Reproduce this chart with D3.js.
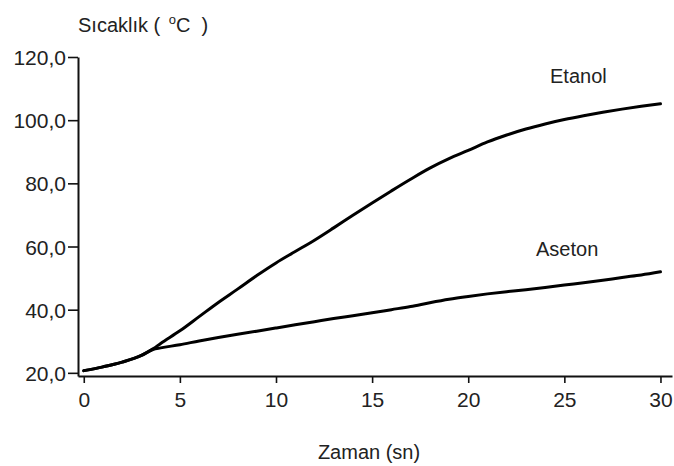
<!DOCTYPE html>
<html>
<head>
<meta charset="utf-8">
<script src="https://cdn.jsdelivr.net/npm/d3@7"></script>
<style>
  html, body { margin: 0; padding: 0; background: #fff; }
  svg { display: block; }
  text { font-family: "Liberation Sans", Arial, sans-serif; fill: #222; }
</style>
</head>
<body>
<svg id="chart" width="674" height="466"></svg>
<script>
// ---- data ----
const timeEtanol = [0, 1, 2, 3, 3.6, 4, 5, 6, 7, 8, 9, 10, 11, 12, 13, 14, 15, 16, 17, 18, 19, 20, 21, 22, 23, 24, 25, 26, 27, 28, 29, 30];
const tempEtanol = [20.7, 21.9, 23.4, 25.5, 27.6, 29.3, 33.3, 37.8, 42.3, 46.5, 50.8, 54.8, 58.4, 62.0, 65.9, 69.9, 73.8, 77.6, 81.3, 84.8, 87.8, 90.4, 93.1, 95.3, 97.2, 98.8, 100.2, 101.4, 102.5, 103.5, 104.4, 105.2];
const timeAseton = [0, 1, 2, 3, 3.6, 4, 5, 6, 7, 8, 9, 10, 11, 12, 13, 14, 15, 16, 17, 18, 19, 20, 21, 22, 23, 24, 25, 26, 27, 28, 29, 30];
const tempAseton = [20.7, 21.9, 23.4, 25.5, 27.4, 27.9, 28.9, 30.1, 31.2, 32.2, 33.2, 34.2, 35.2, 36.2, 37.2, 38.1, 39.0, 40.0, 41.0, 42.2, 43.3, 44.2, 45.0, 45.7, 46.3, 47.0, 47.8, 48.5, 49.3, 50.2, 51.0, 52.0];
const xTicks = [0, 5, 10, 15, 20, 25, 30];
const xTickLabels = ["0", "5", "10", "15", "20", "25", "30"];
const yTicks = [20, 40, 60, 80, 100, 120];
const yTickLabels = ["20,0", "40,0", "60,0", "80,0", "100,0", "120,0"];
const seriesNames = ["Etanol", "Aseton"];
const yTitle = ["Sıcaklık ( ", "o", "C )"];
const xTitle = "Zaman (sn)";

// ---- scales ----
const svg = d3.select("#chart");
const x = d3.scaleLinear().domain([-0.3, 30.6]).range([78, 672]);
const y = d3.scaleLinear().domain([19, 120]).range([376, 57]);

// ---- axes ----
const yAxis = d3.axisLeft(y)
  .tickValues(yTicks)
  .tickFormat((d, i) => yTickLabels[i])
  .tickSizeInner(10).tickSizeOuter(0).tickPadding(2);
const gy = svg.append("g").attr("transform", `translate(${x(-0.3)},0)`).call(yAxis);
gy.selectAll("text").style("font-size", "21px").attr("dy", "0.36em");

const xAxis = d3.axisBottom(x)
  .tickValues(xTicks)
  .tickFormat((d, i) => xTickLabels[i])
  .tickSizeInner(7).tickSizeOuter(0).tickPadding(9);
const gx = svg.append("g").attr("transform", `translate(0,${y(19)})`).call(xAxis);
gx.selectAll("text").style("font-size", "21px");

[gx, gy].forEach(g => {
  g.select(".domain").attr("stroke", "#111").attr("stroke-width", 2);
  g.selectAll(".tick line").attr("stroke", "#111").attr("stroke-width", 1.6);
  g.selectAll("text").attr("fill", "#222").style("font-family", '"Liberation Sans", Arial, sans-serif');
});

// ---- lines ----
const line = d3.line().x(d => x(d[0])).y(d => y(d[1])).curve(d3.curveMonotoneX);
const series = [
  timeAseton.map((t, i) => [t, tempAseton[i]]),
  timeEtanol.map((t, i) => [t, tempEtanol[i]])
];
svg.selectAll("path.series").data(series).enter().append("path")
  .attr("class", "series")
  .attr("d", line)
  .attr("fill", "none")
  .attr("stroke", "#000")
  .attr("stroke-width", 3)
  .attr("stroke-linejoin", "round")
  .attr("stroke-linecap", "round");

// ---- labels ----
svg.append("text").attr("x", 550).attr("y", 83).style("font-size", "20px").text(seriesNames[0]);
svg.append("text").attr("x", 536).attr("y", 256).style("font-size", "20px").text(seriesNames[1]);

const yt = svg.append("text").attr("x", 78).attr("y", 32).style("font-size", "20px").attr("xml:space", "preserve");
yt.append("tspan").text(yTitle[0]);
yt.append("tspan").attr("dx", 3).attr("dy", -8).style("font-size", "13px").text(yTitle[1]);
yt.append("tspan").attr("dy", 8).text(yTitle[2].replace(" ", "  "));

svg.append("text").attr("x", 369).attr("y", 459).attr("text-anchor", "middle").style("font-size", "20px").text(xTitle);
</script>
</body>
</html>
